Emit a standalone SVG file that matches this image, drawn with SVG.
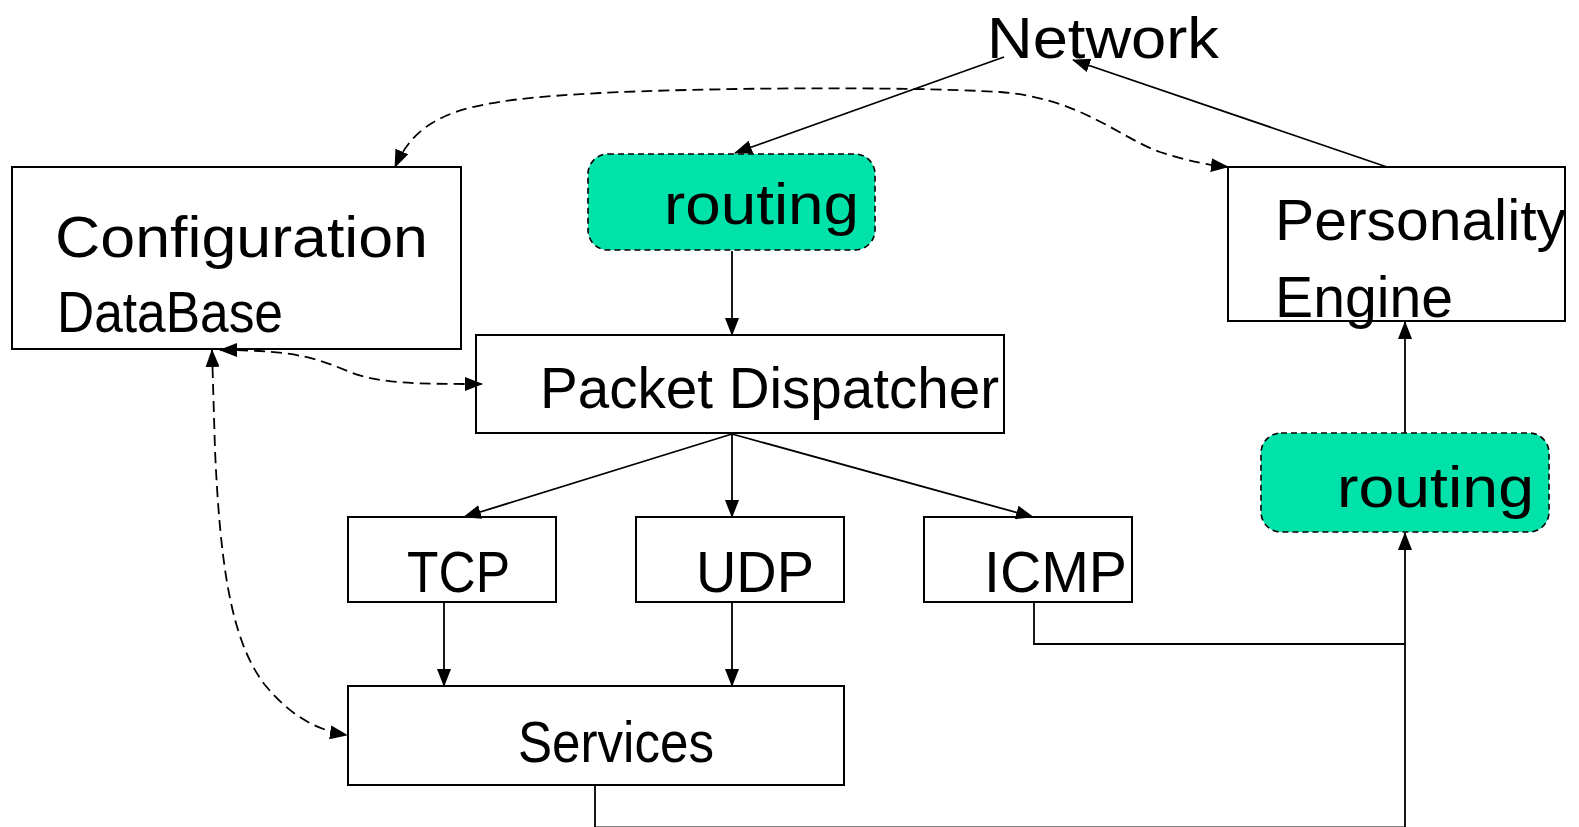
<svg xmlns="http://www.w3.org/2000/svg" width="1579" height="827" viewBox="0 0 1579 827">
<style>
.box{fill:#fff;stroke:#000;stroke-width:2}
.rt{fill:#00E2A9;stroke:#000;stroke-width:1.6;stroke-dasharray:6 4}
.t{font-family:"Liberation Sans",Arial,sans-serif;font-size:58px;fill:#000}
.c{fill:none;stroke:#000;stroke-width:1.8}
.d{fill:none;stroke:#000;stroke-width:1.8;stroke-dasharray:11 6}
</style>
<defs>
<marker id="a" viewBox="0 0 18 14" refX="17" refY="7" markerWidth="18" markerHeight="14" orient="auto-start-reverse" markerUnits="userSpaceOnUse">
<path d="M0,0 L18,7 L0,14 Z" fill="#000"/>
</marker>
</defs>
<rect width="1579" height="827" fill="#fff"/>
<g id="network"><text class="t" x="987" y="58" textLength="232" lengthAdjust="spacingAndGlyphs">Network</text></g>
<g id="config"><rect class="box" x="12" y="167" width="449" height="182"/>
<text class="t" x="55" y="257" textLength="373" lengthAdjust="spacingAndGlyphs">Configuration</text>
<text class="t" x="57" y="332" textLength="226" lengthAdjust="spacingAndGlyphs">DataBase</text></g>
<g id="routing1"><rect class="rt" x="588" y="154" width="287" height="96" rx="20"/>
<text class="t" x="664" y="224" textLength="195" lengthAdjust="spacingAndGlyphs">routing</text></g>
<g id="personality"><rect class="box" x="1228" y="167" width="337" height="154"/>
<text class="t" x="1275" y="240" textLength="291" lengthAdjust="spacingAndGlyphs">Personality</text>
<text class="t" x="1275" y="317" textLength="178" lengthAdjust="spacingAndGlyphs">Engine</text></g>
<g id="dispatcher"><rect class="box" x="476" y="335" width="528" height="98"/>
<text class="t" x="540" y="408" textLength="459" lengthAdjust="spacingAndGlyphs">Packet Dispatcher</text></g>
<g id="tcp"><rect class="box" x="348" y="517" width="208" height="85"/>
<text class="t" x="407" y="592" textLength="103" lengthAdjust="spacingAndGlyphs">TCP</text></g>
<g id="udp"><rect class="box" x="636" y="517" width="208" height="85"/>
<text class="t" x="696" y="592" textLength="118" lengthAdjust="spacingAndGlyphs">UDP</text></g>
<g id="icmp"><rect class="box" x="924" y="517" width="208" height="85"/>
<text class="t" x="984" y="592" textLength="143" lengthAdjust="spacingAndGlyphs">ICMP</text></g>
<g id="services"><rect class="box" x="348" y="686" width="496" height="99"/>
<text class="t" x="518" y="762" textLength="196" lengthAdjust="spacingAndGlyphs">Services</text></g>
<g id="routing2"><rect class="rt" x="1261" y="433" width="288" height="99" rx="20"/>
<text class="t" x="1337" y="507" textLength="197" lengthAdjust="spacingAndGlyphs">routing</text></g>
<g id="connectors">
<path class="c" d="M1004,57 L735,153" marker-end="url(#a)"/>
<path class="c" d="M1387,167 L1073,60" marker-end="url(#a)"/>
<path class="d" d="M395,167 C420,110 470,100 600,93 C700,88 900,86 1000,92 C1080,98 1120,138 1160,152 C1190,162 1210,165 1228,167" marker-start="url(#a)" marker-end="url(#a)"/>
<path class="d" d="M220,350 C300,350 320,360 350,372 C380,384 420,384 482,384" marker-start="url(#a)" marker-end="url(#a)"/>
<path class="d" d="M212,350 L215,450 C220,560 230,640 265,685 C290,715 315,730 347,735" marker-start="url(#a)" marker-end="url(#a)"/>
<path class="c" d="M732,251 L732,335" marker-end="url(#a)"/>
<path class="c" d="M732,434 L464,517" marker-end="url(#a)"/>
<path class="c" d="M732,434 L732,517" marker-end="url(#a)"/>
<path class="c" d="M732,434 L1033,517" marker-end="url(#a)"/>
<path class="c" d="M444,602 L444,686" marker-end="url(#a)"/>
<path class="c" d="M732,602 L732,686" marker-end="url(#a)"/>
<path class="c" d="M1034,602 L1034,644 L1405,644"/>
<path class="c" d="M595,785 L595,827.3 L1405,827.3 L1405,533" marker-end="url(#a)"/>
<path class="c" d="M1405,433 L1405,322" marker-end="url(#a)"/>
</g>
</svg>
